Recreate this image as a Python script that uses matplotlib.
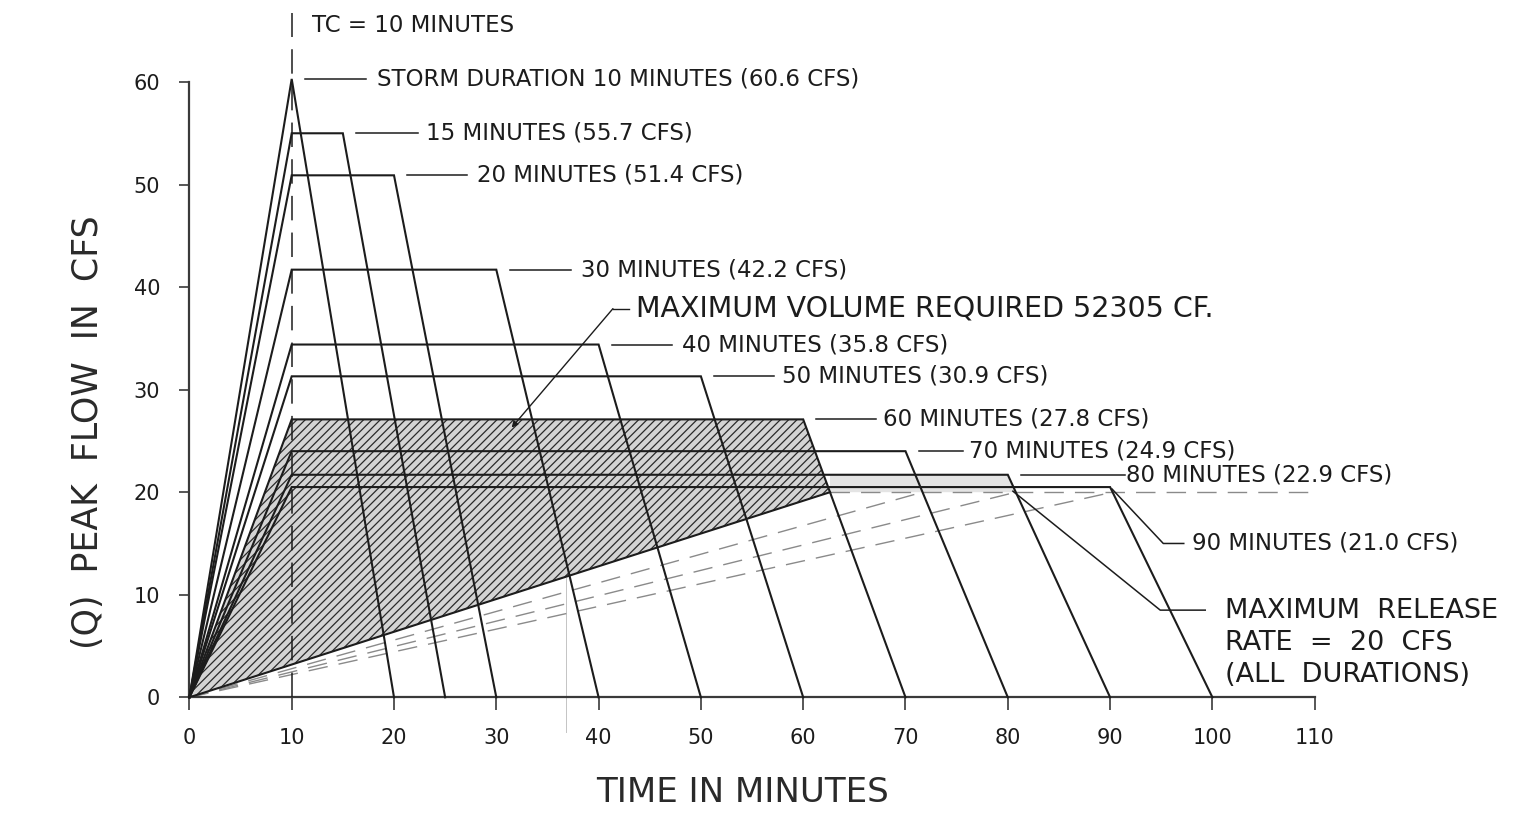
import numpy as np
import matplotlib.pyplot as plt

# storm durations (min) and peak flows (cfs)
durations = [10, 15, 20, 30, 40, 50, 60, 70, 80, 90]
peak_label = [60.6, 55.7, 51.4, 42.2, 35.8, 30.9, 27.8, 24.9, 22.9, 21.0]
# plateau heights as they are drawn on the sheet
peak_drawn = [60.3, 55.0, 50.9, 41.7, 34.4, 31.3, 27.1, 24.0, 21.7, 20.5]
tc = 10
release_rate = 20
max_volume_duration = 60
dashed_durations = [70, 80, 90]
max_volume_text = "MAXIMUM VOLUME REQUIRED 52305 CF."
release_text = "MAXIMUM  RELEASE\nRATE  =  20  CFS\n(ALL  DURATIONS)"

INK = '#1c1c1c'
GREY = '#8a8a8a'
plt.rcParams['font.family'] = ['DejaVu Sans']
plt.rcParams['hatch.linewidth'] = 0.9


def crossing_time(d, q):
    # time where the receding limb drops to the release rate
    return d + tc * (1 - release_rate / q)


fig = plt.figure(figsize=(15.29, 8.17), dpi=100)
ax = fig.add_axes([189.4 / 1529, (817 - 697.3) / 817, 1125.3 / 1529, 615.3 / 817])
ax.set_xlim(0, 110)
ax.set_ylim(0, 60)

# hatched storage volume for the critical duration
i60 = durations.index(max_volume_duration)
q60 = peak_drawn[i60]
t60 = crossing_time(max_volume_duration, q60)
ax.fill([0, tc, max_volume_duration, t60, 0], [0, q60, q60, release_rate, 0],
        facecolor='#d4d4d4', edgecolor='#2a2a2a', hatch='////', lw=0, zorder=1)

# halftone left in the scan between the 70-90 minute plateaus
ax.fill([t60, 80, crossing_time(80, peak_drawn[8]), t60],
        [peak_drawn[8], peak_drawn[8], release_rate, release_rate],
        facecolor='#e4e4e4', lw=0, zorder=1)

# hydrographs
for d, q in zip(durations, peak_drawn):
    ax.plot([0, tc, d, d + tc], [0, q, q, 0], color=INK, lw=1.5,
            solid_joinstyle='miter', clip_on=False, zorder=3)

# outflow lines
ax.plot([0, t60], [0, release_rate], color=INK, lw=1.5, zorder=3)
for d in dashed_durations:
    q = peak_drawn[durations.index(d)]
    ax.plot([0, crossing_time(d, q)], [0, release_rate], color=GREY, lw=1.0,
            dashes=(14, 8), zorder=2)
ax.plot([t60, 110], [release_rate, release_rate], color=GREY, lw=1.0,
        dashes=(14, 8), zorder=2)

# faint construction line
ax.plot([36.8, 36.8], [-3.4, 11.6], color='#c4c4c4', lw=0.7, clip_on=False, zorder=1)

# time of concentration marker
ax.plot([tc, tc], [0, 66.7], color=INK, lw=1.1, dashes=(16, 8), clip_on=False, zorder=3)
ax.text(12.0, 65.5, "TC = 10 MINUTES", fontsize=16.5, color=INK, va='center', ha='left')

# labels with leader lines
leader_len = [6.0, 6.0, 5.8, 6.0, 5.9, 5.8, 5.8, 4.3, 10.2]
text_gap = [1.0, 0.8, 1.0, 1.0, 1.0, 0.8, 0.7, 0.6, 0.1]
for k in range(9):
    d, q = durations[k], peak_drawn[k]
    label = f"{d} MINUTES ({peak_label[k]:.1f} CFS)"
    if k == 0:
        label = "STORM DURATION " + label
    x0 = d + 1.3
    x1 = x0 + leader_len[k]
    ax.plot([x0, x1], [q, q], color=INK, lw=1.1, clip_on=False, zorder=3)
    ax.text(x1 + text_gap[k], q, label, fontsize=16.5, color=INK, va='center', ha='left')

# 90 minute label
q90 = peak_drawn[-1]
ax.plot([90.2, 95.2, 97.2], [q90 - 0.2, 15.0, 15.0], color=INK, lw=1.1, zorder=3)
ax.text(98.0, 15.0, f"90 MINUTES ({peak_label[-1]:.1f} CFS)", fontsize=16.5,
        color=INK, va='center', ha='left')

# maximum release label
ax.plot([80.5, 94.9, 99.3], [20.1, 8.5, 8.5], color=INK, lw=1.1, zorder=3)
ax.text(101.2, 5.3, release_text, fontsize=19.5, color=INK, va='center', ha='left',
        linespacing=1.3, clip_on=False)

# maximum volume label
ax.annotate('', xy=(31.5, 26.3), xytext=(41.4, 37.9),
            arrowprops=dict(arrowstyle='-|>', mutation_scale=9, lw=1.0, color=INK,
                            shrinkA=0, shrinkB=0), zorder=4)
ax.plot([41.4, 43.0], [37.9, 37.9], color=INK, lw=1.0)
ax.text(43.7, 37.9, max_volume_text, fontsize=20.5, color=INK, va='center', ha='left')

# axes styling
for side in ['top', 'right']:
    ax.spines[side].set_visible(False)
for side in ['left', 'bottom']:
    ax.spines[side].set_color('#3a3a3a')
    ax.spines[side].set_linewidth(1.6)
ax.set_xticks(np.arange(0, 111, 10))
ax.set_yticks(np.arange(0, 61, 10))
ax.tick_params(axis='y', direction='out', length=7, width=1.2, pad=14,
               labelsize=15, colors='#3a3a3a', labelcolor=INK)
ax.tick_params(axis='x', direction='out', length=9, width=1.2, pad=13,
               labelsize=15, colors='#3a3a3a', labelcolor=INK)

fig.text(88 / 1529, 1 - 432 / 817, "(Q)  PEAK  FLOW  IN  CFS", rotation=90,
         fontsize=25, color='#2a2a2a', ha='center', va='center')
fig.text(742 / 1529, 1 - 792 / 817, "TIME IN MINUTES", fontsize=24.5,
         color='#2a2a2a', ha='center', va='center')

fig.savefig('out.png', dpi=100, facecolor='white')
